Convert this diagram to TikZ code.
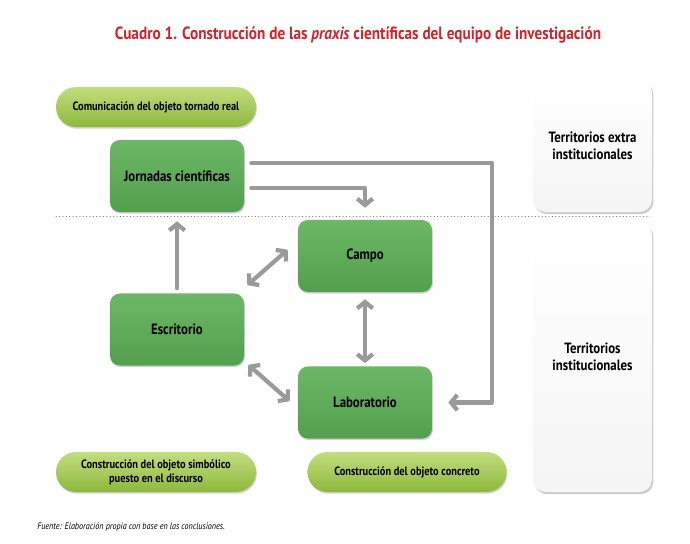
\documentclass[tikz,border=0pt]{standalone}
\usepackage{fontspec}
\setmainfont{PT Sans}[FakeStretch=0.86]
\usetikzlibrary{arrows.meta,shadows}
\definecolor{rojotit}{HTML}{D2232A}
\definecolor{verdeA}{HTML}{6CB866}
\definecolor{verdeB}{HTML}{529F4D}
\definecolor{limaA}{HTML}{C3DD7E}
\definecolor{limaB}{HTML}{8DB83C}
\definecolor{grisflecha}{HTML}{9A9A9A}
\begin{document}
\begin{tikzpicture}[x=0.025cm,y=-0.025cm,line cap=round,line join=round,
  caja/.style={rounded corners=7pt,top color=verdeA,bottom color=verdeB,minimum width=3.35cm,minimum height=1.8cm,
    font=\bfseries\fontsize{10.6}{12}\selectfont,drop shadow={shadow xshift=0.6pt,shadow yshift=-1.2pt,opacity=0.35}},
  pildora/.style={rounded corners=0.5cm,top color=limaA,bottom color=limaB,minimum width=5cm,minimum height=1cm,align=center,
    font=\bfseries\fontsize{8.6}{10}\selectfont,drop shadow={shadow xshift=0.6pt,shadow yshift=-1.2pt,opacity=0.35}},
  territorio/.style={rounded corners=9pt,top color=white,bottom color=gray!8,minimum width=2.975cm,align=center,
    font=\bfseries\fontsize{10.6}{12}\selectfont,drop shadow={shadow xshift=1pt,shadow yshift=-1.5pt,opacity=0.4}},
  flecha/.style={draw=grisflecha,line width=3pt,-{Straight Barb[length=4.5pt,width=11pt]}},
  dflecha/.style={flecha,{Straight Barb[length=4.5pt,width=11pt]}-{Straight Barb[length=4.5pt,width=11pt]}}]
\useasboundingbox (0,0) rectangle (690,544);
\node[text=rojotit,font=\bfseries\fontsize{12.6}{14}\selectfont] (titulo) at (358,35)
  {Cuadro 1. Construcción de las \textit{praxis} científicas del equipo de investigación};
\node[pildora] (comunic) at (156,107) {Comunicación del objeto tornado real};
\node[caja] (jornadas) at (177,176) {Jornadas científicas};
\node[caja] (campo) at (365,256) {Campo};
\node[caja] (escritorio) at (177,329.5) {Escritorio};
\node[caja] (laborat) at (365,402.5) {Laboratorio};
\node[pildora] (simbol) at (156,472) {Construcción del objeto simbólico\\puesto en el discurso};
\node[pildora,minimum width=4.975cm] (concreto) at (407,472) {Construcción del objeto concreto};
\node[territorio,minimum height=3.3cm] (extra) at (592.5,146) {Territorios extra\\institucionales};
\node[territorio,minimum height=6.75cm] (instit) at (592.5,357) {Territorios\\institucionales};
\node[anchor=west,font=\itshape\fontsize{6.7}{8}\selectfont,inner sep=0pt] (fuente) at (37,527)
  {Fuente: Elaboración propia con base en las conclusiones.};
\draw[dotted,gray] (56,216) -- (650,216);
% flechas
\coordinate (codo) at (492,163);
\draw[flecha] ([shift={(7,0)}]jornadas.east |- codo) -- (codo) |- ([shift={(16,0)}]laborat.east);
\draw[flecha] ([shift={(7,12)}]jornadas.east) -| ([shift={(0,-12)}]campo.north);
\draw[flecha] ([shift={(0,-5)}]escritorio.north) -- ([shift={(0,9)}]jornadas.south);
\draw[dflecha] ([shift={(3,-8)}]escritorio.north east) -- ([shift={(-10,30)}]campo.north west);
\draw[dflecha] ([shift={(0,7)}]campo.south) -- ([shift={(0,-3)}]laborat.north);
\draw[dflecha] ([shift={(4,-1)}]escritorio.south east) -- ([shift={(-8,35)}]laborat.north west);
\end{tikzpicture}
\end{document}
